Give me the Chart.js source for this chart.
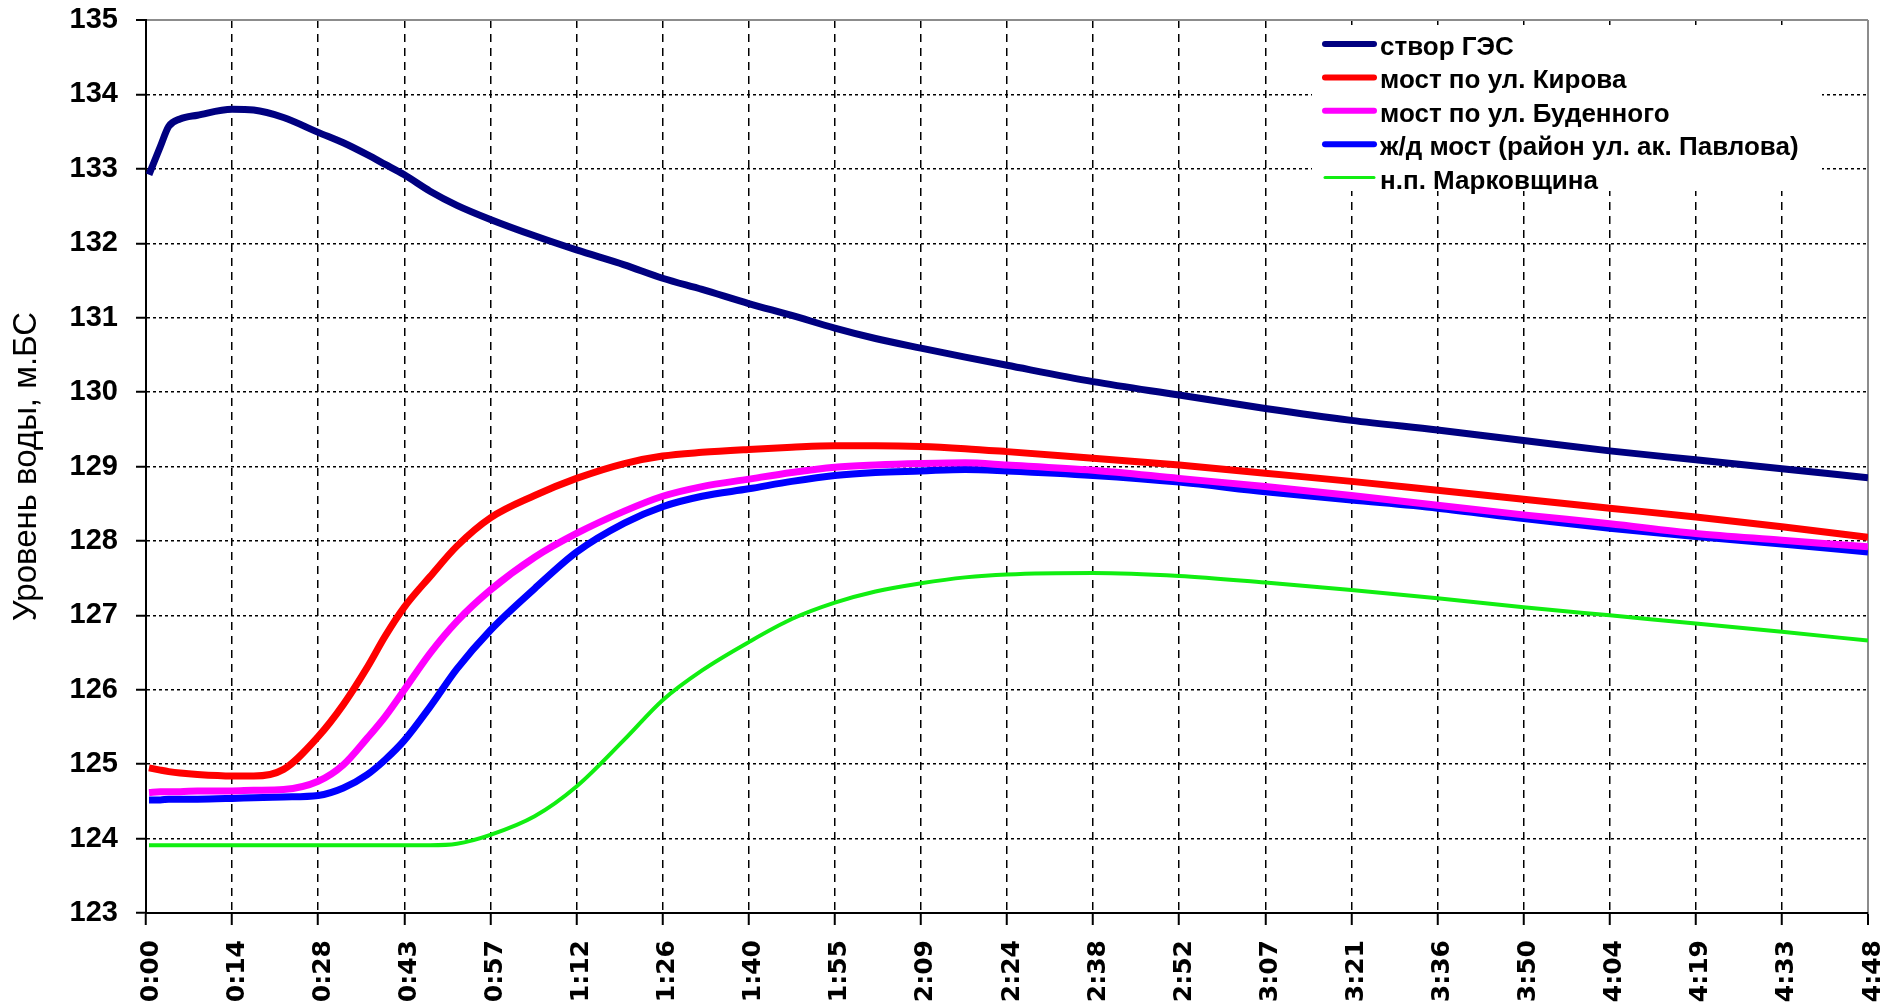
<!DOCTYPE html>
<html lang="ru">
<head>
<meta charset="utf-8">
<title>Уровень воды</title>
<script src="https://cdn.jsdelivr.net/npm/chart.js@4.4.1/dist/chart.umd.min.js"></script>
<style>
  html, body { margin: 0; padding: 0; background: #fff; }
  #wrap { width: 1885px; height: 1006px; }
</style>
</head>
<body>
<div id="wrap"><canvas id="level-chart" width="1885" height="1006"></canvas></div>
<script>
// time in minutes from 0:00
const times = [0.5, 2.4, 3.8, 5.7, 8.6, 14.4, 18, 23, 28.8, 33, 37, 40, 43.2, 47.5, 52, 57.6, 65, 72, 80, 86.4,
  93, 100.8, 108, 115.2, 122, 129.6, 137, 144, 158.4, 172.8, 187.2, 201.6, 216, 230.4, 244.8, 259.2, 273.6, 288];

const seriesNames = [
  "створ ГЭС",
  "мост по ул. Кирова",
  "мост по ул. Буденного",
  "ж/д мост (район ул. ак. Павлова)",
  "н.п. Марковщина",
];

const gesLevels = [132.92, 133.3, 133.57, 133.67, 133.72, 133.8, 133.79, 133.69, 133.49, 133.35, 133.19, 133.06, 132.92,
  132.7, 132.51, 132.32, 132.1, 131.91, 131.71, 131.53, 131.38, 131.19, 131.03, 130.86, 130.72, 130.59, 130.47, 130.36,
  130.14, 129.96, 129.78, 129.62, 129.49, 129.35, 129.21, 129.09, 128.97, 128.85];

const kirovaLevels = [124.95, 124.92, 124.9, 124.88, 124.86, 124.84, 124.84, 124.93, 125.37, 125.8, 126.3, 126.72, 127.11,
  127.52, 127.93, 128.31, 128.61, 128.84, 129.04, 129.14, 129.19, 129.23, 129.26, 129.28, 129.28, 129.27, 129.24, 129.2,
  129.11, 129.02, 128.91, 128.8, 128.68, 128.56, 128.44, 128.32, 128.19, 128.05];

const budennogoLevels = [124.62, 124.63, 124.63, 124.63, 124.64, 124.64, 124.65, 124.66, 124.77, 124.99, 125.35, 125.64, 126.0,
  126.49, 126.92, 127.34, 127.78, 128.1, 128.4, 128.6, 128.73, 128.83, 128.92, 128.99, 129.02, 129.04, 129.05, 129.02,
  128.95, 128.84, 128.73, 128.61, 128.48, 128.35, 128.23, 128.1, 128.01, 127.92];

const pavlovaLevels = [124.52, 124.52, 124.53, 124.53, 124.53, 124.54, 124.55, 124.56, 124.58, 124.68, 124.86, 125.06, 125.32,
  125.77, 126.28, 126.8, 127.36, 127.85, 128.24, 128.46, 128.6, 128.7, 128.8, 128.88, 128.92, 128.94, 128.96, 128.94,
  128.88, 128.79, 128.66, 128.55, 128.44, 128.3, 128.17, 128.06, 127.96, 127.85];

const markovLevels = [123.91, 123.91, 123.91, 123.91, 123.91, 123.91, 123.91, 123.91, 123.91, 123.91, 123.91, 123.91, 123.91,
  123.91, 123.93, 124.05, 124.3, 124.7, 125.33, 125.86, 126.26, 126.64, 126.95, 127.17, 127.32, 127.43, 127.51, 127.55,
  127.57, 127.53, 127.44, 127.34, 127.23, 127.11, 127.0, 126.89, 126.78, 126.66];

const xTicks = [0, 14.4, 28.8, 43.2, 57.6, 72, 86.4, 100.8, 115.2, 129.6, 144, 158.4, 172.8, 187.2, 201.6, 216,
  230.4, 244.8, 259.2, 273.6, 288];
const xTickLabels = ["0:00", "0:14", "0:28", "0:43", "0:57", "1:12", "1:26", "1:40", "1:55", "2:09", "2:24",
  "2:38", "2:52", "3:07", "3:21", "3:36", "3:50", "4:04", "4:19", "4:33", "4:48"];
const yTicks = [123, 124, 125, 126, 127, 128, 129, 130, 131, 132, 133, 134, 135];
const yTitle = "Уровень воды, м.БС";

const allLevels = [gesLevels, kirovaLevels, budennogoLevels, pavlovaLevels, markovLevels];
const lineColors = ["#000080", "#ff0000", "#ff00ff", "#0000ff", "#11ee11"];
const lineWidths = [7, 7, 7, 7, 4];

const toPoints = (levels) => times.map((t, i) => ({ x: t, y: levels[i] }));

// legend drawn inside the plot, top right, on a white box
const insideLegend = {
  id: "insideLegend",
  afterDraw(chart) {
    const { ctx, chartArea } = chart;
    const boxX = chartArea.right - 556;
    ctx.save();
    ctx.fillStyle = "#fff";
    ctx.fillRect(boxX, chartArea.top + 5, 510, 166);
    ctx.font = "bold 26px 'Liberation Sans', Arial, sans-serif";
    ctx.textBaseline = "alphabetic";
    ctx.fillStyle = "#000";
    chart.data.datasets.forEach((ds, i) => {
      const baseY = chartArea.top + 35 + i * 33.4;
      ctx.strokeStyle = ds.borderColor;
      ctx.lineWidth = ds.borderWidth - 1;
      ctx.lineCap = "round";
      ctx.beginPath();
      ctx.moveTo(boxX + 13, baseY - 11);
      ctx.lineTo(boxX + 62, baseY - 11);
      ctx.stroke();
      ctx.fillText(ds.label, boxX + 68, baseY);
    });
    ctx.restore();
  },
};

const levelChart = new Chart(document.getElementById("level-chart"), {
  type: "line",
  data: {
    datasets: seriesNames.map((name, i) => ({
      label: name,
      data: toPoints(allLevels[i]),
      borderColor: lineColors[i],
      backgroundColor: lineColors[i],
      borderWidth: lineWidths[i],
      pointRadius: 0,
      cubicInterpolationMode: "monotone",
      fill: false,
    })),
  },
  options: {
    responsive: false,
    animation: false,
    devicePixelRatio: 1,
    layout: { padding: { left: 0, top: 20, right: 17, bottom: 0 } },
    plugins: {
      legend: { display: false },
      tooltip: { enabled: false },
    },
    scales: {
      x: {
        type: "linear",
        min: 0,
        max: 288,
        afterBuildTicks: (axis) => {
          axis.ticks = xTicks.map((v) => ({ value: v }));
        },
        afterFit: (axis) => {
          axis.height = 93;
          axis.paddingLeft = 0;
          axis.paddingRight = 0;
        },
        ticks: {
          autoSkip: false,
          minRotation: 90,
          maxRotation: 90,
          padding: 15,
          labelOffset: 5,
          color: "#000",
          font: { family: "'DejaVu Sans', sans-serif", weight: "bold", size: 25 },
          callback: (value, index) => xTickLabels[index],
        },
        grid: {
          color: (c) => (c.index === xTicks.length - 1 ? "#8c8c8c" : "#000"),
          lineWidth: (c) => (c.index === xTicks.length - 1 ? 2 : 1.5),
          tickLength: 12,
          tickColor: "#000",
          tickWidth: 2,
        },
        border: {
          color: "#000",
          width: 2,
          dash: (c) => (c.index === xTicks.length - 1 ? [] : [8, 6]),
        },
      },
      y: {
        min: 123,
        max: 135,
        afterBuildTicks: (axis) => {
          axis.ticks = yTicks.map((v) => ({ value: v }));
        },
        afterFit: (axis) => {
          axis.width = 146;
          axis.paddingTop = 0;
          axis.paddingBottom = 0;
        },
        ticks: {
          padding: 18,
          color: "#000",
          font: { family: "'Liberation Sans', Arial, sans-serif", weight: "bold", size: 29 },
        },
        title: {
          display: true,
          text: yTitle,
          color: "#000",
          font: { family: "'Liberation Sans', Arial, sans-serif", size: 33 },
          padding: { top: 7, bottom: 0 },
        },
        grid: {
          color: (c) => (c.index === yTicks.length - 1 ? "#8c8c8c" : "#000"),
          lineWidth: (c) => (c.index === yTicks.length - 1 ? 2 : 1.5),
          tickLength: 10,
          tickColor: "#000",
          tickWidth: 2,
        },
        border: {
          color: "#000",
          width: 2,
          dash: (c) => (c.index === yTicks.length - 1 ? [] : [3, 3]),
        },
      },
    },
  },
  plugins: [insideLegend],
});
</script>
</body>
</html>
